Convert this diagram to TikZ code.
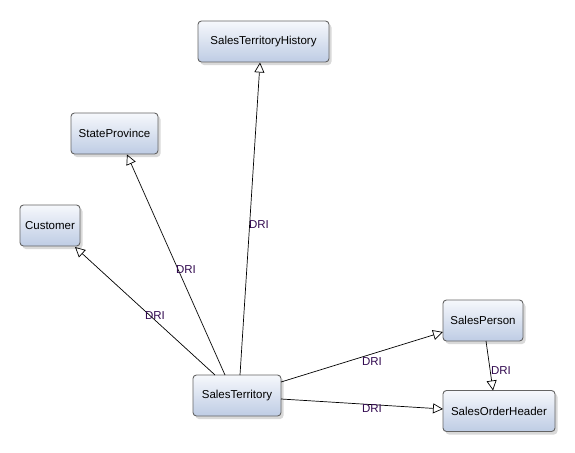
\documentclass[tikz,border=0pt]{standalone}
\usepackage{fontspec}
\setmainfont{Liberation Sans}
\usetikzlibrary{arrows.meta,shadows}
\definecolor{boxtop}{RGB}{246,248,252}
\definecolor{boxbot}{RGB}{190,204,228}
\definecolor{boxline}{RGB}{100,100,100}
\definecolor{lbl}{RGB}{50,10,80}
\tikzset{
  entity/.style={draw=boxline, line width=0.9pt, rounded corners=3.5pt,
    top color=boxtop, bottom color=boxbot, minimum height=41pt,
    inner xsep=4pt, font=\fontsize{11.5}{13}\selectfont,
    drop shadow={shadow xshift=2.5pt, shadow yshift=-3pt, opacity=0.25, fill=black!60}},
  rel/.style={line width=0.7pt, draw=black, -{Triangle[open,length=10pt,width=10pt]}},
  dri/.style={font=\fontsize{11.5}{13}\selectfont, text=lbl, inner sep=1pt}
}
\begin{document}
\begin{tikzpicture}[x=1pt,y=-1pt]
\useasboundingbox (0,0) rectangle (575,452);
\node[entity, minimum width=131pt] (sth) at (263.5,41.5) {SalesTerritoryHistory};
\node[entity, minimum width=87pt] (sp) at (114.5,133.5) {StateProvince};
\node[entity, minimum width=60pt] (cu) at (50,225.5) {Customer};
\node[entity, minimum width=80pt] (spn) at (483,320.5) {SalesPerson};
\node[entity, minimum width=88pt] (st) at (237,395.5) {SalesTerritory};
\node[entity, minimum width=112pt] (soh) at (499,411) {SalesOrderHeader};

\coordinate (a1) at (240,375); \coordinate (b1) at (260,62.5);
\coordinate (a2) at (225,375); \coordinate (b2) at (127,154.5);
\coordinate (a3) at (215,375); \coordinate (b3) at (75,247);
\coordinate (a4) at (281,382); \coordinate (b4) at (443,332);
\coordinate (a5) at (281,399); \coordinate (b5) at (443,409);
\coordinate (a6) at (486,341); \coordinate (b6) at (493,390.5);

\draw[rel] (a1) -- (b1);
\draw[rel] (a2) -- (b2);
\draw[rel] (a3) -- (b3);
\draw[rel] (a4) -- (b4);
\draw[rel] (a5) -- (b5);
\draw[rel] (a6) -- (b6);

\node[dri] at (259,225) {DRI};
\node[dri] at (186,270) {DRI};
\node[dri] at (155,316) {DRI};
\node[dri] at (372,362) {DRI};
\node[dri] at (372,409) {DRI};
\node[dri] at (501,371) {DRI};
\end{tikzpicture}
\end{document}
